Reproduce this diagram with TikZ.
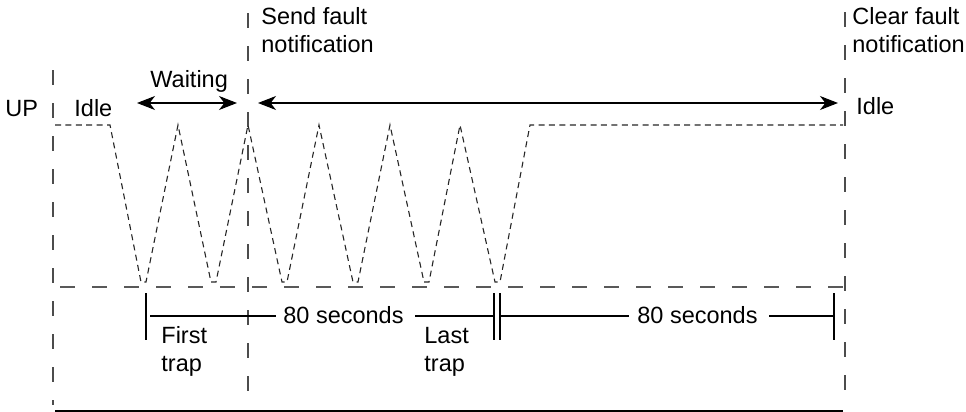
\documentclass[tikz,border=0pt]{standalone}
\usepackage{fontspec}
\setmainfont{Liberation Sans}
\usetikzlibrary{arrows.meta}
\begin{document}
\begin{tikzpicture}[x=0.5pt,y=-0.5pt,
  txt/.style={inner sep=0pt, anchor=base west, font=\fontsize{11.75}{13}\selectfont},
  vdash/.style={draw=black!70, line width=0.65pt, dash pattern=on 7.5pt off 9pt},
  hdash/.style={draw=black!65, line width=0.65pt, dash pattern=on 7.5pt off 8.5pt},
  wave/.style={draw=black!85, line width=0.55pt, dash pattern=on 3pt off 2.2pt},
  solidln/.style={draw=black, line width=0.55pt},
  tip/.tip={Stealth[length=9pt,width=7pt,inset=2.7pt]},
  arr/.style={solidln, tip-tip}
]
\useasboundingbox (0,0) rectangle (966,412);

% vertical dashed markers
\draw[vdash] (53,70) -- (53,405);
\draw[vdash] (248,13) -- (248,405);
\draw[vdash] (845,12) -- (845,405);

% baseline and bottom line
\draw[hdash] (60,287) -- (845,287);
\draw[draw=black, line width=1pt] (55,411) -- (843,411);

% waveform
\draw[wave] (55,125) -- (110,125) -- (141,282) -- (146,282) -- (178,125)
  -- (211,282) -- (216,282) -- (248,125) -- (282,282) -- (287,282) -- (319,125)
  -- (353,282) -- (358,282) -- (390,125) -- (424,282) -- (429,282) -- (460,125)
  -- (495,282) -- (500,282) -- (530,125) -- (843,125);

% arrows
\coordinate (wa) at (137,103);
\coordinate (wb) at (237,103);
\coordinate (na) at (258,103);
\coordinate (nb) at (838,103);
\draw[arr] (wa) -- (wb);
\draw[arr] (na) -- (nb);

% top labels
\node[txt] (up) at (5,116) {UP};
\node[txt] (idle1) at (74,116) {Idle};
\node[txt] (wait) at (150,88) {Waiting};
\node[txt] (send1) at (261,25) {Send fault};
\node[txt] (send2) at (261,53) {notification};
\node[txt] (clr1) at (852,25) {Clear fault};
\node[txt] (clr2) at (852,53) {notification};
\node[txt] (idle2) at (856,114) {Idle};

% lower timing
\draw[solidln] (146,293) -- (146,340);
\draw[solidln] (494,293) -- (494,340);
\draw[solidln] (500,293) -- (500,340);
\draw[solidln] (834,293) -- (834,340);

\node[txt] (s1) at (283,323) {80 seconds};
\node[txt] (s2) at (637,323) {80 seconds};
\draw[solidln] (150,316) -- (276,316);
\draw[solidln] (415,316) -- (494,316);
\draw[solidln] (500,316) -- (629,316);
\draw[solidln] (769,316) -- (834,316);

\node[txt] (ft1) at (161,343) {First};
\node[txt] (ft2) at (161,371) {trap};
\node[txt] (lt1) at (424,343) {Last};
\node[txt] (lt2) at (424,371) {trap};
\end{tikzpicture}
\end{document}
